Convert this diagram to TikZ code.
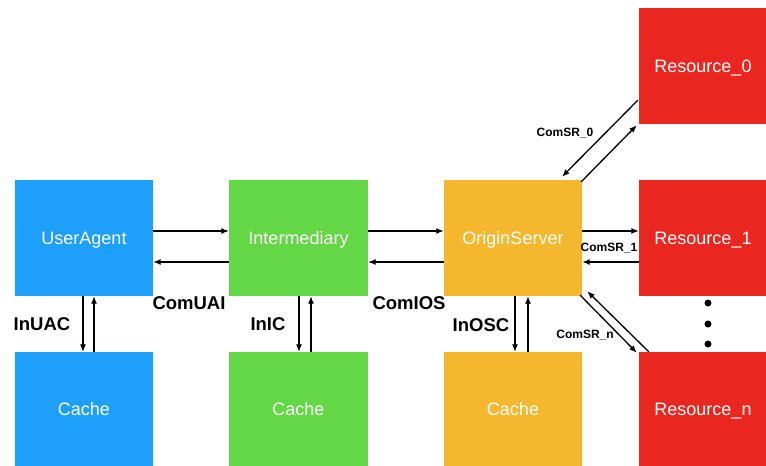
\documentclass[tikz,border=0pt]{standalone}
\usepackage{fontspec}
\setmainfont{Liberation Sans}
\usetikzlibrary{calc,arrows.meta}
\definecolor{cblue}{RGB}{30,160,250}
\definecolor{cgreen}{RGB}{100,215,70}
\definecolor{corange}{RGB}{245,183,46}
\definecolor{cred}{RGB}{234,38,33}
\tikzset{
  box/.style={rectangle,inner sep=0pt,minimum width=138pt,minimum height=116pt,text=white,text depth=0pt,font=\fontsize{18}{20}\selectfont},
  arr/.style={-{Latex[length=7.5pt,width=6pt]},line width=1.3pt,black},
  lbl/.style={font=\fontsize{18.5}{20}\selectfont\bfseries,inner sep=0pt},
  slbl/.style={font=\fontsize{12}{14}\selectfont\bfseries,inner sep=0pt},
  dot/.style={circle,fill=black,inner sep=0pt,minimum size=7pt}
}
\begin{document}
\begin{tikzpicture}[x=1pt,y=-1pt]
\useasboundingbox (0,0) rectangle (766,466);
\node[box,fill=cblue] (ua) at (84,238) {UserAgent};
\node[box,fill=cgreen,minimum width=139pt] (im) at (298.5,238) {Intermediary};
\node[box,fill=corange] (os) at (513,238) {OriginServer};
\node[box,fill=cblue,minimum height=114pt] (c1) at (84,409) {Cache};
\node[box,fill=cgreen,minimum width=139pt,minimum height=114pt] (c2) at (298.5,409) {Cache};
\node[box,fill=corange,minimum height=114pt] (c3) at (513,409) {Cache};
\node[box,fill=cred,minimum width=128pt] (r0) at (703,66) {Resource\_0};
\node[box,fill=cred,minimum width=128pt] (r1) at (703,238) {Resource\_1};
\node[box,fill=cred,minimum width=128pt,minimum height=114pt] (rn) at (703,409) {Resource\_n};
% horizontal
\draw[arr] (ua.east |- 0,231) -- (im.west |- 0,231);
\draw[arr] (im.west |- 0,262) -- (ua.east |- 0,262);
\draw[arr] (im.east |- 0,231) -- (os.west |- 0,231);
\draw[arr] (os.west |- 0,262) -- (im.east |- 0,262);
\draw[arr] (os.east |- 0,231) -- (r1.west |- 0,231);
\draw[arr] (r1.west |- 0,262) -- (os.east |- 0,262);
% vertical
\draw[arr] (ua.south -| 83,0) -- (c1.north -| 83,0);
\draw[arr] (c1.north -| 94,0) -- (ua.south -| 94,0);
\draw[arr] (im.south -| 299,0) -- (c2.north -| 299,0);
\draw[arr] (c2.north -| 311,0) -- (im.south -| 311,0);
\draw[arr] (os.south -| 515,0) -- (c3.north -| 515,0);
\draw[arr] (c3.north -| 528,0) -- (os.south -| 528,0);
% diagonals
\draw[arr] ($(r0.south west)+(-1,-24)$) -- ($(os.north)+(49,-3)$);
\draw[arr] ($(os.north east)+(-1,2)$) -- ($(r0.south west)+(-2,1)$);
\draw[arr] ($(os.south east)+(-2,-1)$) -- ($(rn.north west)+(-2,1)$);
\draw[arr] ($(rn.north west)+(10,0)$) -- ($(os.south east)+(5,-5)$);
% dots
\node[dot] (d1) at (708,303) {};
\node[dot] (d2) at (708,324) {};
\node[dot] (d3) at (708,344) {};
% labels
\node[lbl] (lcomuai) at (189,303) {ComUAI};
\node[lbl] (linuac) at (42,324) {InUAC};
\node[lbl] (linic) at (268,324) {InIC};
\node[lbl] (lcomios) at (409,303) {ComIOS};
\node[lbl] (linosc) at (481,325) {InOSC};
\node[slbl] (lsr0) at (565,133) {ComSR\_0};
\node[slbl] (lsr1) at (609,248) {ComSR\_1};
\node[slbl] (lsrn) at (585,335) {ComSR\_n};
\end{tikzpicture}
\end{document}
